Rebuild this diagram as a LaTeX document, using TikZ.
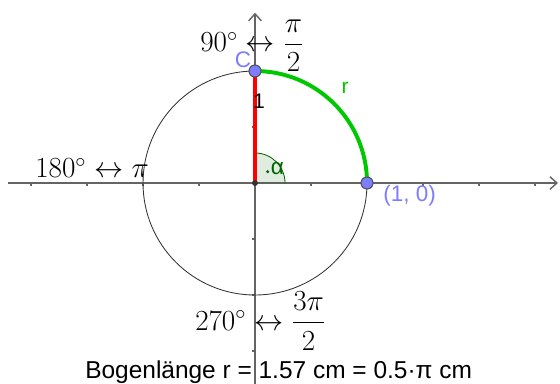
\documentclass[tikz,border=0pt]{standalone}
\usepackage{fontspec}
\setsansfont{Liberation Sans}
\usepackage{amsmath}
\usetikzlibrary{arrows.meta}

\definecolor{ptblue}{RGB}{125,125,255}
\definecolor{arcgreen}{RGB}{0,200,0}
\definecolor{anglegreen}{RGB}{0,100,0}
\definecolor{axisgray}{RGB}{100,100,100}

\begin{document}
\begin{tikzpicture}[
  x=2.8cm, y=2.8cm,
  axis/.style={draw=axisgray, line width=1pt, -{Straight Barb[length=5pt, width=9pt]}},
  pnt/.style={circle, draw=black!70, fill=ptblue, line width=0.6pt, minimum size=8.5pt, inner sep=0pt},
  small dot/.style={circle, fill=black!80, minimum size=4pt, inner sep=0pt},
  deg label/.style={inner sep=0pt, font=\fontsize{20}{22}\selectfont},
  pt label/.style={inner sep=0pt, text=ptblue, font=\sffamily\fontsize{16}{18}\selectfont}
]
\useasboundingbox (-2.277,-1.786) rectangle (2.723,1.634);

% Axes
\coordinate (xmin) at (-2.205,0);
\coordinate (xmax) at (2.705,0);
\coordinate (ymin) at (0,-1.80);
\coordinate (ymax) at (0,1.52);
\draw[axis] (xmin) -- (xmax);
\draw[axis] (ymin) -- (ymax);
\foreach \t in {-2,-1.5,-1,-0.5,0.5,1,1.5,2,2.5}
  \draw[axisgray, line width=0.8pt] (\t,0) -- (\t,-0.025);
\foreach \t in {-1.5,-1,-0.5,0.5,1}
  \draw[axisgray, line width=0.8pt] (0,\t) -- (-0.025,\t);

% Circle
\draw[black!80, line width=0.6pt] (0,0) circle[radius=1];

% Nodes
\node[small dot] (O) at (0,0) {};
\node[pnt] (C) at (0,1) {};
\node[pnt] (P) at (1,0) {};

% Angle
\fill[anglegreen, fill opacity=0.12] (O.center) -- (0.268,0) arc[start angle=0, end angle=90, radius=0.268] -- cycle;
\draw[anglegreen, line width=0.6pt] (0.268,0) arc[start angle=0, end angle=90, radius=0.268];
\fill[anglegreen] (0.113,0.101) circle[radius=1.2pt];

% Radius and arc
\draw[red, line width=2.8pt] (O.center) -- (C.center);
\draw[arcgreen, line width=2.8pt] (C.center) arc[start angle=90, end angle=0, radius=1];
\node[pnt] at (C) {};
\node[pnt] at (P) {};
\node[small dot] at (O) {};

% Labels
\node[pt label] (labC) at (-0.107,1.097) {C};
\node[pt label, anchor=west] (labP) at (1.143,-0.114) {(1, 0)};
\node[inner sep=0pt, font=\sffamily\fontsize{15}{17}\selectfont] (labOne) at (0.036,0.732) {1};
\node[inner sep=0pt, text=arcgreen, font=\sffamily\fontsize{15}{17}\selectfont] (labR) at (0.804,0.848) {r};
\node[inner sep=0pt, text=anglegreen, font=\sffamily\fontsize{16}{18}\selectfont] (labAlpha) at (0.20,0.128) {α};

\node[deg label, anchor=base west] (deg90) at (-0.491,1.170) {$90^\circ \leftrightarrow \dfrac{\pi}{2}$};
\node[deg label, anchor=base west] (deg180) at (-1.964,0.045) {$180^\circ \leftrightarrow \pi$};
\node[deg label, anchor=base west] (deg270) at (-0.536,-1.3125) {$270^\circ \leftrightarrow \dfrac{3\pi}{2}$};

\node[inner sep=0pt, anchor=base west, font=\sffamily\fontsize{17.4}{19}\selectfont] (arclen) at (-1.518,-1.741) {Bogenlänge r = 1.57 cm = 0.5·π cm};

\end{tikzpicture}
\end{document}
